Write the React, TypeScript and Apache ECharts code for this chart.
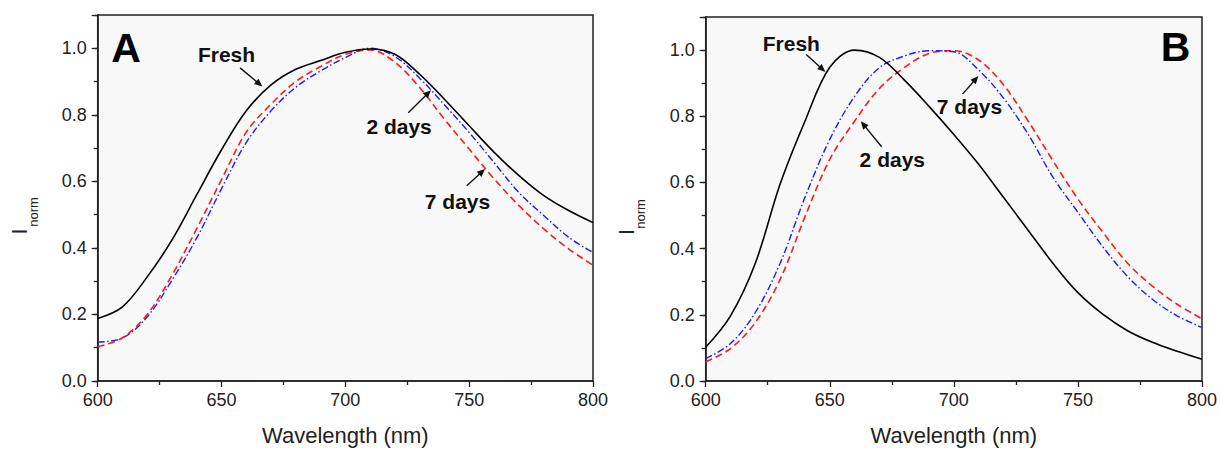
import React, { useEffect, useRef } from "react";
import * as echarts from "echarts";

// ---- Data ----
const wavelengths = [600, 610, 620, 630, 640, 650, 660, 670, 680, 690, 700, 710, 720, 730, 740, 750, 760, 770, 780, 790, 800];

// Panel A
const freshA = [0.188, 0.223, 0.313, 0.424, 0.56, 0.695, 0.812, 0.89, 0.937, 0.963, 0.988, 0.998, 0.982, 0.922, 0.847, 0.767, 0.688, 0.618, 0.558, 0.513, 0.476];
const twoDaysA = [0.117, 0.129, 0.193, 0.303, 0.43, 0.578, 0.717, 0.812, 0.883, 0.932, 0.972, 1.0, 0.975, 0.91, 0.83, 0.747, 0.657, 0.567, 0.498, 0.433, 0.386];
const sevenDaysA = [0.103, 0.13, 0.2, 0.318, 0.458, 0.605, 0.748, 0.832, 0.9, 0.945, 0.982, 0.995, 0.958, 0.882, 0.787, 0.697, 0.608, 0.528, 0.458, 0.398, 0.348];

// Panel B
const freshB = [0.102, 0.197, 0.356, 0.595, 0.785, 0.948, 1.0, 0.978, 0.91, 0.83, 0.745, 0.655, 0.555, 0.455, 0.355, 0.267, 0.202, 0.152, 0.117, 0.09, 0.066];
const twoDaysB = [0.058, 0.098, 0.177, 0.307, 0.496, 0.67, 0.785, 0.884, 0.947, 0.99, 0.998, 0.97, 0.895, 0.785, 0.665, 0.55, 0.45, 0.356, 0.287, 0.232, 0.188];
const sevenDaysB = [0.068, 0.113, 0.207, 0.356, 0.555, 0.73, 0.86, 0.947, 0.982, 0.998, 0.995, 0.94, 0.855, 0.745, 0.615, 0.51, 0.406, 0.316, 0.247, 0.197, 0.162];

// Axis ranges
const xMin = 600;
const xMax = 800;
const xInterval = 50;
const yMin = 0;
const yMax = 1.1;
const yInterval = 0.2;
const yMinorInterval = 0.1;

// Annotations in data coordinates: label position, arrow start, arrow tip
const labelsA = ["Fresh", "2 days", "7 days"];
const labelPosA = [[652.0, 0.981], [721.7, 0.764], [745.3, 0.54]];
const arrowFromA = [[657.5, 0.941], [725.4, 0.806], [749.0, 0.587]];
const arrowToA = [[666.5, 0.885], [734.6, 0.874], [756.4, 0.637]];
const letterA = "A";
const letterPosA = [611.4, 1.001];

const labelsB = ["Fresh", "2 days", "7 days"];
const labelPosB = [[634.5, 1.019], [675.2, 0.669], [706.3, 0.83]];
const arrowFromB = [[640.5, 0.987], [670.9, 0.708], [703.5, 0.867]];
const arrowToB = [[648.2, 0.934], [662.5, 0.785], [709.9, 0.922]];
const letterB = "B";
const letterPosB = [789.3, 1.01];

const FONT = "'Liberation Sans', Arial, Helvetica, sans-serif";

const pairs = (ys: number[]) => wavelengths.map((w, i) => [w, ys[i]]);

function xAxisFor(gridIndex: number) {
  return {
    type: "value",
    gridIndex,
    min: xMin,
    max: xMax,
    interval: xInterval,
    name: "Wavelength (nm)",
    nameLocation: "middle",
    nameGap: 43,
    nameTextStyle: { fontSize: 22, color: "#222", fontFamily: FONT },
    axisLine: { show: true, onZero: false, lineStyle: { color: "#222", width: 1.5 } },
    axisTick: { show: true, length: 6, lineStyle: { color: "#222", width: 1.3 } },
    minorTick: { show: true, splitNumber: 2, length: 4, lineStyle: { color: "#222", width: 1.3 } },
    splitLine: { show: false },
    minorSplitLine: { show: false },
    axisLabel: { fontSize: 18, color: "#222", margin: 10, fontFamily: FONT },
  };
}

function yAxisMajor(gridIndex: number) {
  return {
    type: "value",
    gridIndex,
    min: yMin,
    max: yMax,
    interval: yInterval,
    axisLine: { show: true, onZero: false, lineStyle: { color: "#222", width: 1.5 } },
    axisTick: { show: true, length: 6, lineStyle: { color: "#222", width: 1.3 } },
    splitLine: { show: false },
    axisLabel: {
      fontSize: 18,
      color: "#222",
      margin: 11,
      fontFamily: FONT,
      formatter: (v: number) => (v > 1.05 ? "" : v.toFixed(1)),
    },
  };
}

function yAxisMinor(gridIndex: number) {
  return {
    type: "value",
    gridIndex,
    position: "left",
    min: yMin,
    max: yMax,
    interval: yMinorInterval,
    axisLine: { show: false },
    axisTick: { show: true, length: 4, lineStyle: { color: "#222", width: 1.3 } },
    splitLine: { show: false },
    axisLabel: { show: false },
  };
}

function lineSeries(name: string, ys: number[], xi: number, yi: number, kind: "solid" | "dash" | "dashdot") {
  const style: any =
    kind === "solid"
      ? { color: "#000000", width: 1.6, type: "solid" }
      : kind === "dash"
      ? { color: "#ff1a1a", width: 1.6, type: [7, 4] }
      : { color: "#1a1aff", width: 1.4, type: [7, 2.5, 1.5, 2.5] };
  return {
    type: "line",
    name,
    xAxisIndex: xi,
    yAxisIndex: yi,
    data: pairs(ys),
    showSymbol: false,
    symbol: "none",
    smooth: 0.35,
    lineStyle: style,
    itemStyle: { color: style.color },
    z: kind === "solid" ? 3 : 2,
  };
}

function arrow(s: number[], t: number[]) {
  const dx = t[0] - s[0];
  const dy = t[1] - s[1];
  const len = Math.sqrt(dx * dx + dy * dy) || 1;
  const ux = dx / len;
  const uy = dy / len;
  const nx = -uy;
  const ny = ux;
  const hl = 8;
  const hw = 3.5;
  const bx = t[0] - ux * hl;
  const by = t[1] - uy * hl;
  return [
    {
      type: "line",
      shape: { x1: s[0], y1: s[1], x2: t[0] - ux * 5, y2: t[1] - uy * 5 },
      style: { stroke: "#111", lineWidth: 1.4 },
      z: 100,
    },
    {
      type: "polygon",
      shape: { points: [[t[0], t[1]], [bx + nx * hw, by + ny * hw], [bx - nx * hw, by - ny * hw]] },
      style: { fill: "#111" },
      z: 100,
    },
  ];
}

export default function App() {
  const ref = useRef<HTMLDivElement>(null);

  useEffect(() => {
    if (!ref.current) return;
    const chart = echarts.init(ref.current, null, { renderer: "svg" });

    const option: any = {
      animation: false,
      backgroundColor: "#ffffff",
      textStyle: { fontFamily: FONT },
      grid: [
        { left: 97.7, top: 15, width: 495.3, height: 368, show: true, backgroundColor: "#f8f8f8", borderColor: "#222", borderWidth: 1.5, containLabel: false },
        { left: 705.7, top: 17, width: 499, height: 369, show: true, backgroundColor: "#f8f8f8", borderColor: "#222", borderWidth: 1.5, containLabel: false },
      ],
      xAxis: [xAxisFor(0), xAxisFor(1)],
      yAxis: [yAxisMajor(0), yAxisMinor(0), yAxisMajor(1), yAxisMinor(1)],
      series: [
        lineSeries("Fresh (A)", freshA, 0, 0, "solid"),
        lineSeries("2 days (A)", twoDaysA, 0, 0, "dashdot"),
        lineSeries("7 days (A)", sevenDaysA, 0, 0, "dash"),
        lineSeries("Fresh (B)", freshB, 1, 2, "solid"),
        lineSeries("2 days (B)", twoDaysB, 1, 2, "dash"),
        lineSeries("7 days (B)", sevenDaysB, 1, 2, "dashdot"),
      ],
    };
    chart.setOption(option);

    const toPx = (finder: any, p: number[]) => chart.convertToPixel(finder, p) as number[];
    const fA = { xAxisIndex: 0, yAxisIndex: 0 };
    const fB = { xAxisIndex: 1, yAxisIndex: 2 };

    const graphics: any[] = [];
    const addPanel = (finder: any, labels: string[], pos: number[][], from: number[][], to: number[][], letter: string, letterPos: number[]) => {
      labels.forEach((txt, i) => {
        const p = toPx(finder, pos[i]);
        graphics.push({
          type: "text",
          x: p[0],
          y: p[1],
          z: 100,
          style: { text: txt, font: `bold 21px ${FONT}`, fill: "#111", align: "center", verticalAlign: "middle" },
        });
        graphics.push(...arrow(toPx(finder, from[i]), toPx(finder, to[i])));
      });
      const lp = toPx(finder, letterPos);
      graphics.push({
        type: "text",
        x: lp[0],
        y: lp[1],
        z: 100,
        style: { text: letter, font: `bold 41px ${FONT}`, fill: "#000", align: "center", verticalAlign: "middle" },
      });
    };
    addPanel(fA, labelsA, labelPosA, arrowFromA, arrowToA, letterA, letterPosA);
    addPanel(fB, labelsB, labelPosB, arrowFromB, arrowToB, letterB, letterPosB);

    // y-axis titles: I with subscript "norm", rotated
    const yTitle = (ix: number, iy: number, nx: number, ny: number) => {
      graphics.push({
        type: "text",
        x: ix,
        y: iy,
        rotation: Math.PI / 2,
        style: { text: "I", font: `22px ${FONT}`, fill: "#222", align: "center", verticalAlign: "middle" },
      });
      graphics.push({
        type: "text",
        x: nx,
        y: ny,
        rotation: Math.PI / 2,
        style: { text: "norm", font: `13px ${FONT}`, fill: "#222", align: "center", verticalAlign: "middle" },
      });
    };
    yTitle(19, 231.5, 33, 212);
    yTitle(626.5, 232, 640, 214);

    chart.setOption({ graphic: graphics });

    return () => chart.dispose();
  }, []);

  return <div ref={ref} style={{ position: "absolute", left: 0, top: 0, width: 1220, height: 451 }} />;
}
